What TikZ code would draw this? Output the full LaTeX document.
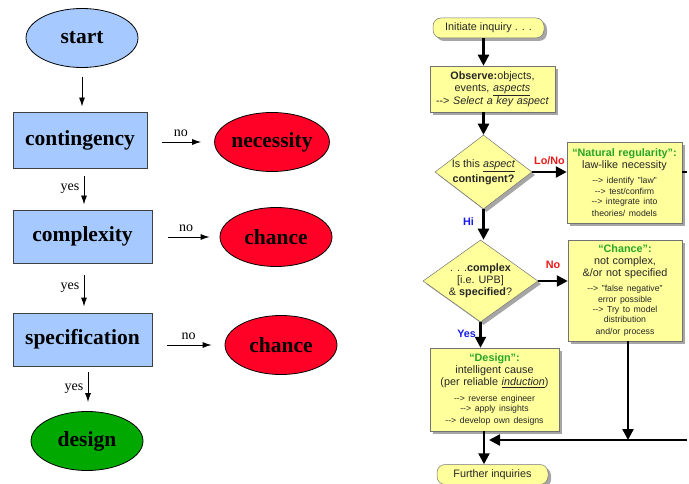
\documentclass[tikz,border=0pt]{standalone}
\usepackage{fontspec}
\setmainfont{Liberation Serif}
\setsansfont{Liberation Sans}
\usepackage{xcolor}
\usepackage{tikz}
\usetikzlibrary{arrows.meta,shapes.geometric,shadows}
\definecolor{stepblue}{RGB}{166,202,255}
\definecolor{endred}{RGB}{255,0,38}
\definecolor{endgreen}{RGB}{0,168,0}
\definecolor{noteyellow}{RGB}{255,255,156}
\definecolor{titlegreen}{RGB}{40,165,40}
\definecolor{linkred}{RGB}{235,25,25}
\definecolor{linkblue}{RGB}{25,25,235}
\newcommand{\pointer}{-{}->}
\newcommand{\smalltext}{\fontsize{8.7}{10.3}\selectfont}

\begin{document}
\begin{tikzpicture}[x=1pt,y=-1pt,
	oval/.style={ellipse,draw=black,line width=0.8pt,minimum width=112pt,minimum height=59pt,inner sep=0pt,font=\bfseries\fontsize{21.5}{24}\selectfont},
	stage/.style={rectangle,draw=black!75,line width=0.9pt,fill=stepblue,inner sep=0pt,minimum height=53pt,font=\bfseries\fontsize{21.5}{24}\selectfont},
	flow/.style={-{Latex[length=9pt,width=6pt]},line width=0.9pt},
	answer/.style={font=\fontsize{14}{16}\selectfont},
	note/.style={rectangle,draw=black!55,line width=0.5pt,fill=noteyellow,inner sep=0pt,align=center,text=black!85,font=\sffamily\fontsize{10.8}{12}\selectfont,drop shadow={shadow xshift=3pt,shadow yshift=-3pt,fill=black!35,opacity=1}},
	terminal/.style={note,rounded corners=8pt,minimum width=111pt,minimum height=20pt},
	query/.style={note,diamond},
	pipe/.style={-{Triangle[length=11pt,width=11pt]},line width=2.4pt},
	verdict/.style={font=\sffamily\bfseries\fontsize{10.8}{12}\selectfont}]
	\useasboundingbox (0,0) rectangle (689,484);
	\node[oval,fill=stepblue] (start) at (82,38) {start};
	\node[stage,minimum width=134pt,minimum height=56pt] (cont) at (80,140) {contingency};
	\node[oval,fill=endred] (nec) at (272,142) {necessity};
	\node[stage,minimum width=139pt] (cmplx) at (82.5,236.5) {complexity};
	\node[oval,fill=endred] (chanceA) at (276,237) {chance};
	\node[stage,minimum width=139pt] (spec) at (82.5,339.5) {specification};
	\node[oval,fill=endred] (chanceB) at (281,345) {chance};
	\node[oval,fill=endgreen] (design) at (87,441) {design};
	\draw[flow,shorten <=9pt,shorten >=5pt] (start.south) -- (start.south |- cont.north);
	\draw[flow,shorten <=8pt,shorten >=5pt] ([xshift=4pt]cont.south) -- ([xshift=4pt]cont.south |- cmplx.north) node[midway,left=1pt,answer] {yes};
	\draw[flow,shorten <=12pt,shorten >=6pt] ([xshift=1.5pt]cmplx.south) -- ([xshift=1.5pt]cmplx.south |- spec.north) node[midway,left=1pt,answer] {yes};
	\draw[flow,shorten <=6pt,shorten >=9pt] ([xshift=5.5pt]spec.south) -- ([xshift=5.5pt]spec.south |- design.north) node[midway,left=1pt,answer] {yes};
	\draw[flow,shorten <=15pt,shorten >=13pt] (cont.east |- nec.west) -- (nec.west) node[midway,above=2pt,answer] {no};
	\draw[flow,shorten <=16pt,shorten >=10pt] (cmplx.east |- chanceA.west) -- (chanceA.west) node[midway,above=2pt,answer] {no};
	\draw[flow,shorten <=15pt,shorten >=13pt] (spec.east |- chanceB.west) -- (chanceB.west) node[midway,above=2pt,answer] {no};
	\node[terminal] (init) at (488.5,28) {Initiate inquiry . . .};
	\node[note,text width=121pt,minimum width=125pt,minimum height=46pt] (obs) at (492.5,89) {\textbf{Observe:}objects,\\ events, \underline{\textit{aspects}}\\ \pointer{} \textit{Select a key aspect}};
	\node[query,aspect=1.31,minimum width=97pt,minimum height=74pt] (isit) at (483.5,172) {Is this \underline{\textit{aspect}}\\[2pt] \textbf{contingent?}};
	\node[note,text width=112pt,minimum width=115pt,minimum height=81pt] (natural) at (624.5,182.5) {\textcolor{titlegreen}{\textbf{“Natural regularity”:}}\\ law-like necessity\par\vspace{5pt}\smalltext\pointer{} identify "law"\\ \pointer{} test/confirm\\ \pointer{} integrate into\\ theories/ models};
	\node[query,aspect=1.4,minimum width=115pt,minimum height=82pt] (cplx) at (480.5,281) {. . .\textbf{complex}\\ {[i.e. UPB]}\\ \& \textbf{specified}?};
	\node[note,text width=110pt,minimum width=114pt,minimum height=101pt] (chanceC) at (625,290.5) {\textcolor{titlegreen}{\textbf{“Chance”:}}\\ not complex,\\ \&/or not specified\par\vspace{5pt}\smalltext\pointer{} "false negative"\\ error possible\\ \pointer{} Try to model\\ distribution\\ and/or process};
	\node[note,text width=125pt,minimum width=129pt,minimum height=83pt] (designC) at (494.5,389.5) {\textcolor{titlegreen}{\textbf{“Design”:}}\\ intelligent cause\\ (per reliable \underline{\textit{induction}})\par\vspace{5pt}\smalltext\pointer{} reverse engineer\\ \pointer{} apply insights\\ \pointer{} develop own designs};
	\node[terminal] (further) at (492.5,474.5) {Further inquiries};
	\coordinate (offright) at (687,172);
	\coordinate (merge) at (484,440);
	\coordinate (join) at (489,440);
	\coordinate (offedge) at (687,440);
	\draw[pipe] (init.south -| isit.north) -- (obs.north -| isit.north);
	\draw[pipe] (obs.south -| isit.north) -- (isit.north);
	\draw[pipe] (isit.east) -- (isit.east -| natural.west) node[midway,above=3pt,verdict,text=linkred] {Lo/No};
	\draw[line width=2.4pt] (natural.east |- isit.east) -- (offright);
	\draw[pipe] (isit.south) -- (isit.south |- cplx.north) node[pos=0.4,left=5pt,verdict,text=linkblue] {Hi};
	\draw[pipe] (cplx.east) -- (cplx.east -| chanceC.west) node[midway,above=8pt,verdict,text=linkred] {No};
	\draw[pipe] (cplx.south) -- (cplx.south |- designC.north) node[pos=0.45,left=0pt,verdict,text=linkblue] {Yes};
	\draw[pipe] ([xshift=3pt]chanceC.south) -- ([xshift=3pt]chanceC.south |- join);
	\draw[pipe] (offedge) -- (join);
	\draw[pipe] (designC.south -| merge) -- (further.north -| merge);
\end{tikzpicture}
\end{document}
